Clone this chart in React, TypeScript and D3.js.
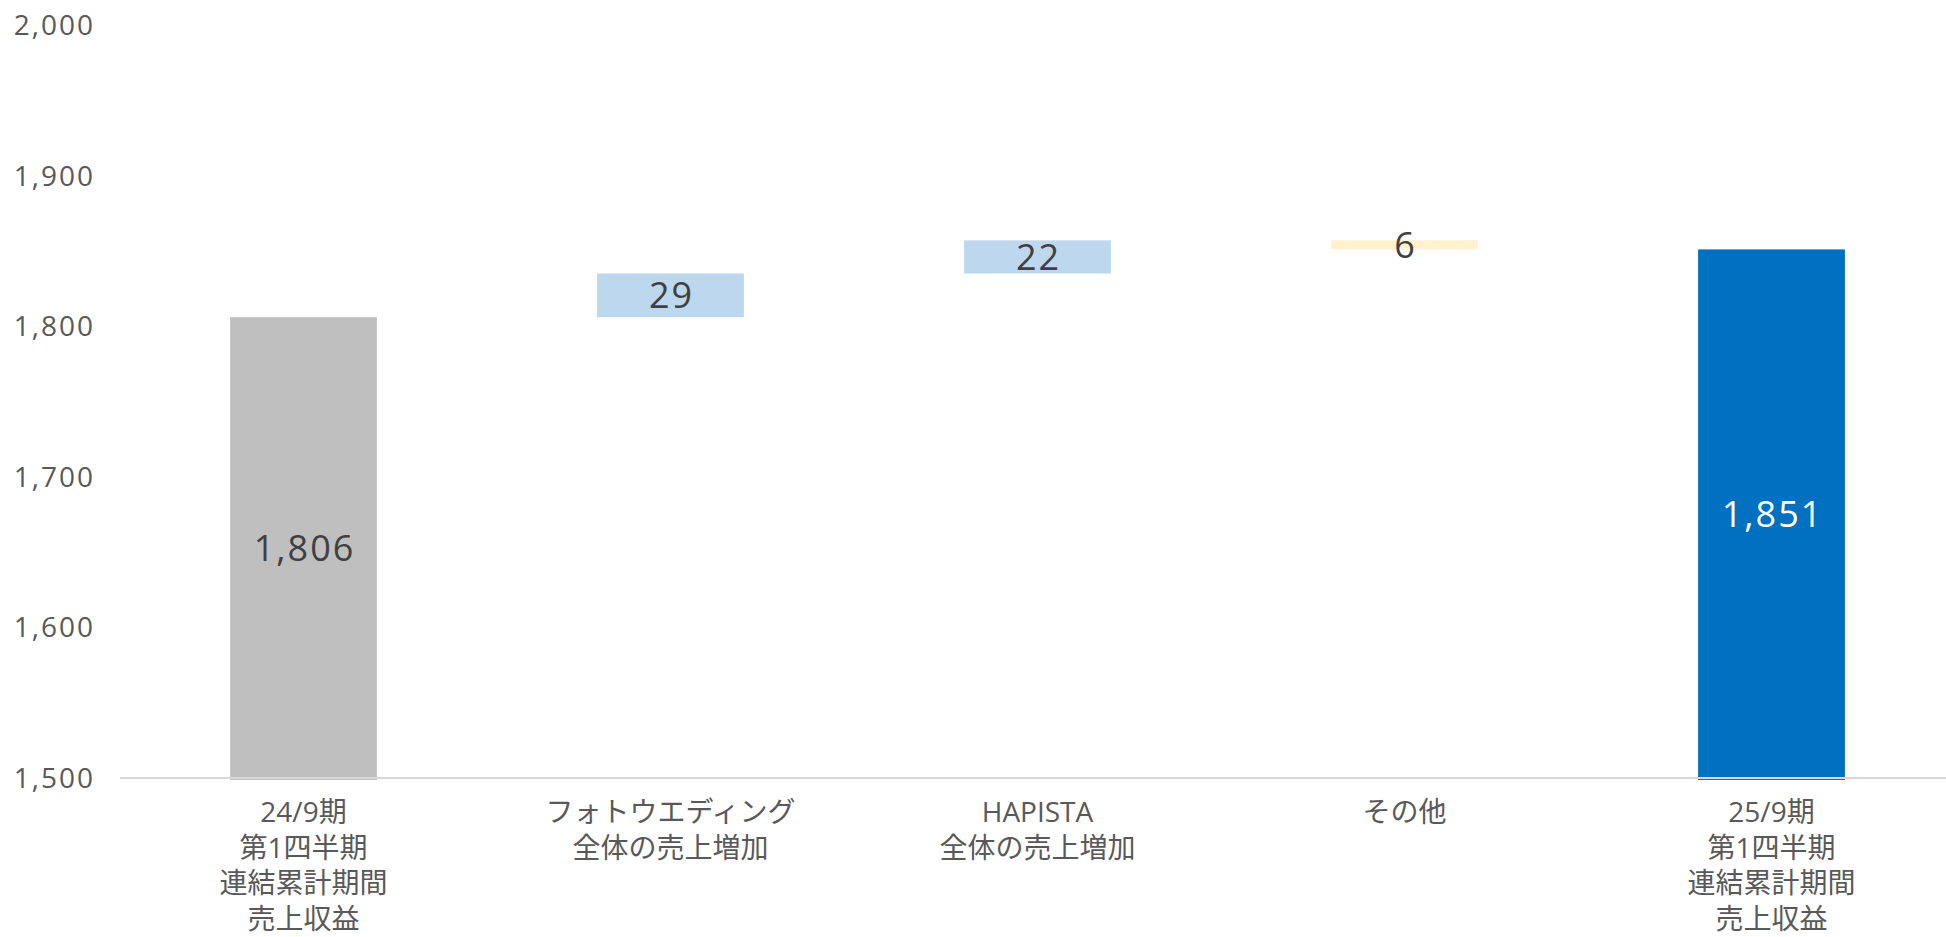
import React, { useEffect, useRef } from "react";
import * as d3 from "d3";

// categories (multi-line labels)
const categories = [
  ["24/9期", "第1四半期", "連結累計期間", "売上収益"],
  ["フォトウエディング", "全体の売上増加"],
  ["HAPISTA", "全体の売上増加"],
  ["その他"],
  ["25/9期", "第1四半期", "連結累計期間", "売上収益"],
];
const startValue = 1806;
const deltas = [29, 22, -6];
const deltaLabels = ["29", "22", "6"];
const endValue = 1851;
const yTicks = [1500, 1600, 1700, 1800, 1900, 2000];

const W = 1946;
const H = 937;

export default function App() {
  const svgRef = useRef<SVGSVGElement | null>(null);

  useEffect(() => {
    document.body.style.margin = "0";
    if (!svgRef.current) return;
    const svg = d3.select(svgRef.current);
    svg.selectAll("*").remove();

    const font = "'Open Sans', 'Noto Sans CJK JP', sans-serif";

    const x = d3.scaleBand<number>()
      .domain(d3.range(categories.length))
      .range([120, 1955])
      .paddingInner(0.6)
      .paddingOuter(0.3);

    const y = d3.scaleLinear().domain([1500, 2000]).range([778, 25]);

    // build waterfall segments
    type Seg = { lo: number; hi: number; fill: string; label: string; textFill: string };
    const segs: Seg[] = [];
    segs.push({ lo: 1500, hi: startValue, fill: "#bfbfbf", label: d3.format(",")(startValue), textFill: "#404040" });
    let run = startValue;
    deltas.forEach((d, i) => {
      const next = run + d;
      segs.push({
        lo: Math.min(run, next),
        hi: Math.max(run, next),
        fill: d >= 0 ? "#bdd7ee" : "#fff2cc",
        label: deltaLabels[i],
        textFill: "#404040",
      });
      run = next;
    });
    segs.push({ lo: 1500, hi: endValue, fill: "#0070c0", label: d3.format(",")(endValue), textFill: "#ffffff" });

    // y tick labels
    svg.append("g")
      .selectAll("text")
      .data(yTicks)
      .enter()
      .append("text")
      .attr("x", 95)
      .attr("y", d => y(d))
      .attr("dy", "0.36em")
      .attr("text-anchor", "end")
      .attr("font-family", font)
      .attr("font-size", 28)
      .attr("letter-spacing", 2)
      .attr("fill", "#595959")
      .text(d => d3.format(",")(d));

    // bars
    svg.append("g")
      .selectAll("rect")
      .data(segs)
      .enter()
      .append("rect")
      .attr("x", (_, i) => x(i)!)
      .attr("width", x.bandwidth())
      .attr("y", d => y(d.hi))
      .attr("height", d => y(d.lo) - y(d.hi) + (d.lo === 1500 ? 2 : 0))
      .attr("fill", d => d.fill);

    // baseline
    svg.append("line")
      .attr("x1", 120)
      .attr("x2", W)
      .attr("y1", y(1500))
      .attr("y2", y(1500))
      .attr("stroke", "#d9d9d9")
      .attr("stroke-width", 2);

    // value labels
    svg.append("g")
      .selectAll("text")
      .data(segs)
      .enter()
      .append("text")
      .attr("x", (_, i) => x(i)! + x.bandwidth() / 2 + 1)
      .attr("y", d => (y(d.lo) + y(d.hi)) / 2)
      .attr("dy", "0.36em")
      .attr("text-anchor", "middle")
      .attr("font-family", font)
      .attr("font-size", 36)
      .attr("letter-spacing", 2)
      .attr("fill", d => d.textFill)
      .text(d => d.label);

    // category labels
    const cat = svg.append("g")
      .selectAll("text")
      .data(categories)
      .enter()
      .append("text")
      .attr("x", (_, i) => x(i)! + x.bandwidth() / 2)
      .attr("y", 822)
      .attr("text-anchor", "middle")
      .attr("font-family", font)
      .attr("font-size", 28)
      .attr("fill", "#595959");

    cat.selectAll("tspan")
      .data((d, i) => d.map(line => ({ line, i })))
      .enter()
      .append("tspan")
      .attr("x", d => x(d.i)! + x.bandwidth() / 2)
      .attr("dy", (_, j) => (j === 0 ? 0 : 35.5))
      .text(d => d.line);
  }, []);

  return (
    <svg
      ref={svgRef}
      width={W}
      height={H}
      style={{ display: "block", background: "#fff" }}
    />
  );
}
